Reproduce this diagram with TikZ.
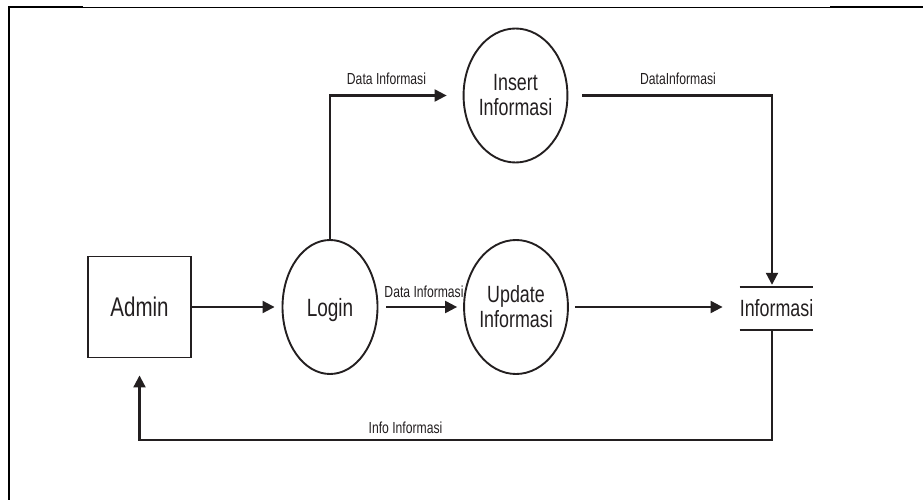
\documentclass[tikz,border=0pt]{standalone}
\usepackage{fontspec}
\setmainfont[FakeStretch=0.76]{Liberation Sans}
\usetikzlibrary{shapes.geometric,arrows.meta}
\definecolor{ink}{RGB}{35,31,32}
\begin{document}
\begin{tikzpicture}[x=1pt,y=-1pt,
  every node/.style={text=ink, inner sep=0pt},
  flow/.style={draw=ink, line width=2.1pt, -{Triangle[length=12pt,width=12pt]}},
  entity/.style={draw=ink, line width=1.9pt, minimum width=103pt, minimum height=101pt,
    font=\fontsize{27}{30}\selectfont},
  process/.style={ellipse, draw=ink, line width=1.9pt, minimum width=95pt, minimum height=134pt,
    align=center, font=\fontsize{23.5}{25}\selectfont},
  storetext/.style={minimum width=69pt, minimum height=43pt, font=\fontsize{23.5}{25}\selectfont},
  flowlabel/.style={font=\fontsize{16}{18}\selectfont}
]
\useasboundingbox (0,0) rectangle (923,500);

% page frame
\draw[line width=2pt] (9,500) -- (9,7.5) -- (83,7.5);
\draw[line width=1pt] (83,7.5) -- (830,7.5);
\draw[line width=2pt] (830,7.5) -- (923,7.5);

% external entity, processes and data store
\node[entity] (admin) at (139.5,307) {Admin};
\node[process, font=\fontsize{25}{27}\selectfont, text depth=0pt] (login) at (330,307) {Login};
\node[process] (insert) at (515.5,95.5) {Insert\\Informasi};
\node[process] (update) at (516,307) {Update\\Informasi};
\node[storetext] (store) at (776.5,308.5) {Informasi};
\draw[ink, line width=1.9pt] (store.north west) -- (store.north east)
                             (store.south west) -- (store.south east);
\coordinate (ret) at (139.5,440);

% data flows
\draw[flow, shorten >=7pt] (admin.east) -- (login.west);
\draw[flow, shorten >=16pt] (login.north) |- (insert.west);
\draw[flow, shorten <=8pt, shorten >=6pt] (login.east) -- (update.west);
\draw[flow, shorten <=14pt, shorten >=2pt] (insert.east) -| ([xshift=-4.5pt]store.north);
\draw[flow, shorten <=6pt, shorten >=17pt] (update.east) -- (update.east -| store.west);
\draw[flow, shorten >=17pt] ([xshift=-4.5pt]store.south) |- (ret) -- (admin.south);

% flow labels
\node[flowlabel] (l1) at (386.5,79) {Data Informasi};
\node[flowlabel] (l2) at (678,79) {DataInformasi};
\node[flowlabel] (l3) at (424,291.5) {Data Informasi};
\node[flowlabel] (l4) at (405.5,428) {Info Informasi};
\end{tikzpicture}
\end{document}
